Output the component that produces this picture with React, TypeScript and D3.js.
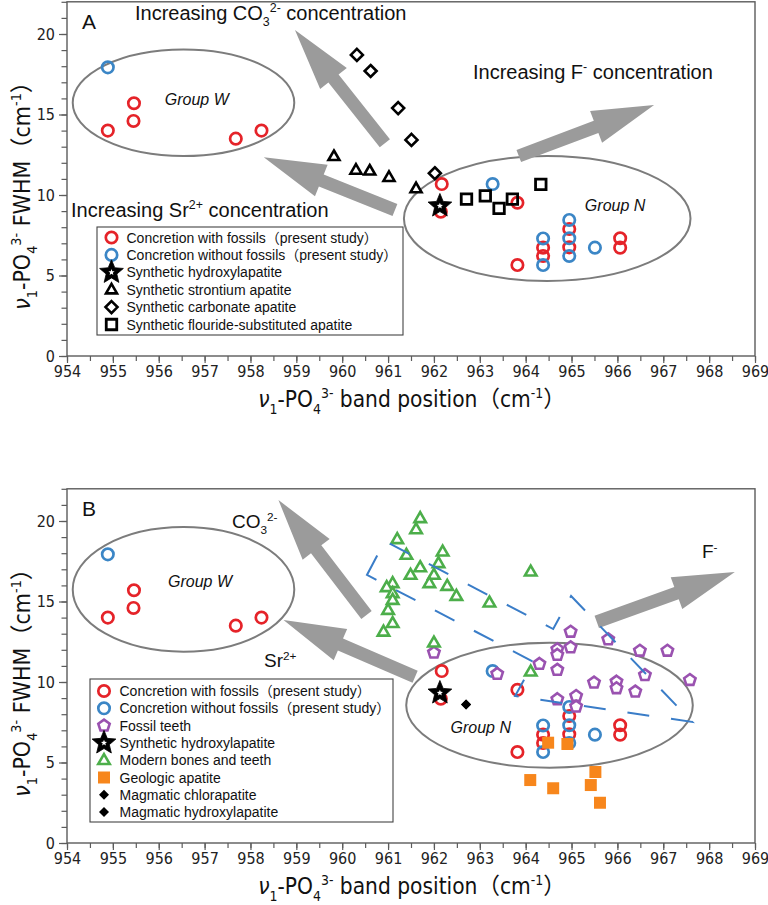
import React, { useEffect, useRef } from 'react';
import * as d3 from 'd3';

type Pt = [number, number];

// present study (shown in both panels)
const withFossils: Pt[] = [
  [954.89, 14.0], [955.46, 15.7], [955.45, 14.6], [957.68, 13.5], [958.24, 14.0],
  [962.17, 10.68], [962.15, 8.96], [963.82, 9.52], [963.82, 5.65],
  [964.38, 6.73], [964.38, 6.21], [964.95, 7.89], [964.95, 6.75],
  [966.06, 7.31], [966.06, 6.73],
];
const withoutFossils: Pt[] = [
  [954.89, 17.93], [963.28, 10.68], [964.38, 7.3], [964.38, 5.65],
  [964.95, 8.45], [964.95, 7.31], [964.95, 6.21], [965.51, 6.73],
];
const hydroxylapatite: Pt[] = [[962.13, 9.32]];

// panel A references
const strontiumApatite: Pt[] = [
  [959.82, 12.4], [960.3, 11.55], [960.6, 11.5], [961.02, 11.1], [961.61, 10.4],
];
const carbonateApatite: Pt[] = [
  [960.32, 18.7], [960.62, 17.7], [961.22, 15.4], [961.51, 13.42], [962.02, 11.35],
];
const fluorideApatite: Pt[] = [
  [962.71, 9.75], [963.12, 9.94], [963.42, 9.17], [963.71, 9.75], [964.33, 10.66],
];

// panel B references
const fossilTeeth: Pt[] = [
  [962.0, 11.82], [964.98, 13.12], [964.98, 12.15], [964.69, 12.03], [964.69, 11.68],
  [965.8, 12.65], [966.49, 11.94], [967.09, 11.94], [964.3, 11.12], [964.69, 10.75],
  [963.38, 10.5], [966.6, 10.43], [967.58, 10.12], [965.49, 9.96], [965.98, 10.02],
  [965.98, 9.61], [966.39, 9.4], [964.69, 8.93], [965.1, 9.13], [965.1, 8.47],
];
const modernBones: Pt[] = [
  [961.7, 20.17], [961.61, 19.48], [961.2, 18.86], [961.4, 17.89], [962.19, 18.09],
  [961.7, 17.12], [962.1, 17.37], [961.49, 16.65], [962.0, 16.65], [961.9, 16.13],
  [962.29, 15.96], [962.49, 15.34], [961.1, 16.13], [960.97, 15.88], [961.1, 15.51],
  [961.1, 15.09], [961.0, 14.47], [961.1, 13.65], [960.9, 13.12], [963.21, 14.93],
  [962.0, 12.44], [964.11, 16.85], [964.11, 10.64],
];
const geologicApatite: Pt[] = [
  [964.49, 6.23], [964.91, 6.15], [964.1, 3.91], [964.6, 3.4],
  [965.52, 4.41], [965.42, 3.6], [965.62, 2.5],
];
const magmaticChlorapatite: Pt[] = [[962.7, 8.6]];
const magmaticHydroxylapatite: Pt[] = [[962.7, 8.6]];

// dashed envelope around bones / teeth (panel B)
const envelope: Pt[] = [
  [960.54, 16.65], [960.93, 18.76], [964.6, 13.29], [964.99, 15.34],
  [967.63, 7.52], [963.77, 9.13], [964.18, 11.24],
];

// arrows: [tail, tip]
const arrowsA: [Pt, Pt][] = [
  [[960.93, 13.21], [958.97, 20.25]],
  [[961.15, 9.07], [958.29, 12.34]],
  [[963.85, 12.42], [966.8, 15.59]],
];
const arrowsB: [Pt, Pt][] = [
  [[960.53, 14.16], [958.61, 21.3]],
  [[961.59, 10.33], [958.72, 13.85]],
  [[965.55, 13.73], [968.56, 16.83]],
];

const xTicks = d3.range(954, 970, 1);
const xMinor = d3.range(954, 969.01, 0.5);
const yTicks = [0, 5, 10, 15, 20];
const yMinor = d3.range(0, 23, 1);

const RED = '#e52329';
const BLUE = '#3b86c6';
const GREEN = '#4cae4a';
const PURPLE = '#9a52b0';
const ORANGE = '#f7861c';
const GREY = '#9b9b9b';

const SANS = '"Liberation Sans", Arial, "Noto Sans CJK JP", sans-serif';
const NARROW = '"Liberation Sans Narrow", "DejaVu Sans Condensed", "Noto Sans CJK JP", sans-serif';

const triPath = (s: number) => {
  const h = (s * Math.sqrt(3)) / 2;
  return `M0,${-2 * h / 3}L${s / 2},${h / 3}L${-s / 2},${h / 3}Z`;
};
const diaPath = (r: number) => `M0,${-r}L${r},0L0,${r}L${-r},0Z`;
const sqPath = (s: number) => `M${-s / 2},${-s / 2}h${s}v${s}h${-s}Z`;
const polyStar = (R: number, r: number) => {
  const p: string[] = [];
  for (let i = 0; i < 10; i++) {
    const a = -Math.PI / 2 + (i * Math.PI) / 5;
    const rr = i % 2 === 0 ? R : r;
    p.push(`${(Math.cos(a) * rr).toFixed(2)},${(Math.sin(a) * rr).toFixed(2)}`);
  }
  return 'M' + p.join('L') + 'Z';
};
const pentPath = (R: number) => {
  const p: string[] = [];
  for (let i = 0; i < 5; i++) {
    const a = -Math.PI / 2 + (i * 2 * Math.PI) / 5;
    p.push(`${(Math.cos(a) * R).toFixed(2)},${(Math.sin(a) * R).toFixed(2)}`);
  }
  return 'M' + p.join('L') + 'Z';
};

type Kind =
  | 'red' | 'blue' | 'star' | 'tri' | 'dia' | 'sq'
  | 'pent' | 'gtri' | 'osq' | 'bdia';

// draws one marker kind at px coordinates
function marker(g: any, kind: Kind, px: number, py: number) {
  const t = `translate(${px},${py})`;
  if (kind === 'red' || kind === 'blue') {
    g.append('circle').attr('cx', px).attr('cy', py).attr('r', 5.7)
      .attr('fill', 'none').attr('stroke', kind === 'red' ? RED : BLUE).attr('stroke-width', 2.7);
  } else if (kind === 'star') {
    g.append('path').attr('transform', t).attr('d', polyStar(12.5, 5.6)).attr('fill', '#000')
      .attr('stroke', '#000').attr('stroke-width', 0.8).attr('stroke-linejoin', 'round');
    g.append('path').attr('transform', t).attr('d', polyStar(3.2, 1.4)).attr('fill', '#fff');
  } else if (kind === 'tri') {
    g.append('path').attr('transform', `translate(${px},${py + 0.5})`).attr('d', triPath(11))
      .attr('fill', '#fff').attr('stroke', '#000').attr('stroke-width', 2.6).attr('stroke-linejoin', 'miter');
  } else if (kind === 'dia') {
    g.append('path').attr('transform', t).attr('d', diaPath(6))
      .attr('fill', '#fff').attr('stroke', '#000').attr('stroke-width', 2.6);
  } else if (kind === 'sq') {
    g.append('path').attr('transform', t).attr('d', sqPath(10.5))
      .attr('fill', 'none').attr('stroke', '#000').attr('stroke-width', 2.8);
  } else if (kind === 'pent') {
    g.append('path').attr('transform', t).attr('d', pentPath(6))
      .attr('fill', '#fff').attr('stroke', PURPLE).attr('stroke-width', 2.6);
  } else if (kind === 'gtri') {
    g.append('path').attr('transform', `translate(${px},${py + 0.5})`).attr('d', triPath(11.5))
      .attr('fill', '#fff').attr('stroke', GREEN).attr('stroke-width', 2.6);
  } else if (kind === 'osq') {
    g.append('path').attr('transform', t).attr('d', sqPath(12)).attr('fill', ORANGE);
  } else if (kind === 'bdia') {
    g.append('path').attr('transform', t).attr('d', diaPath(5)).attr('fill', '#000');
  }
}

type Part = [string, 'n' | 'sub' | 'sup' | 'i'];

// text with sub / superscripts as tspans
function rich(g: any, x: number, y: number, parts: Part[], size: number, family: string, anchor = 'start', transform?: string) {
  const t = g.append('text').attr('x', x).attr('y', y)
    .attr('font-family', family).attr('font-size', size).attr('fill', '#111')
    .attr('text-anchor', anchor);
  if (transform) t.attr('transform', transform);
  let shift = 0;
  parts.forEach(([s, k]) => {
    const want = k === 'sub' ? 0.3 * size : k === 'sup' ? -0.38 * size : 0;
    const sp = t.append('tspan').attr('dy', want - shift).text(s);
    if (k === 'sub' || k === 'sup') sp.attr('font-size', size * 0.62);
    if (k === 'i') sp.attr('font-style', 'italic');
    shift = want;
  });
  return t;
}

const App: React.FC = () => {
  const svgRef = useRef<SVGSVGElement>(null);

  useEffect(() => {
    const svg = d3.select(svgRef.current);
    svg.selectAll('*').remove();

    svg.append('rect').attr('width', 768).attr('height', 905).attr('fill', '#fff');

    const x = d3.scaleLinear().domain([954, 969]).range([67, 755]);

    const panels = [
      {
        key: 'A', bottom: 356, arrows: arrowsA,
        ellW: { cx: 956.54, cy: 15.73, rx: 2.415, ry: 3.31 },
        ellN: { cx: 964.47, cy: 8.54, rx: 3.124, ry: 3.88 },
        groupW: [956.83, 15.6], groupN: [965.95, 9.0],
      },
      {
        key: 'B', bottom: 843, arrows: arrowsB,
        ellW: { cx: 956.54, cy: 15.75, rx: 2.415, ry: 3.87 },
        ellN: { cx: 964.52, cy: 8.56, rx: 3.124, ry: 3.88 },
        groupW: [956.9, 15.9], groupN: [963.02, 6.83],
      },
    ];

    panels.forEach((p) => {
      const y = d3.scaleLinear().domain([0, 22]).range([p.bottom, p.bottom - 354.2]);
      const g = svg.append('g');

      // frame
      g.append('rect').attr('x', 67).attr('y', y(22)).attr('width', 688).attr('height', y(0) - y(22))
        .attr('fill', 'none').attr('stroke', '#5c5c5c').attr('stroke-width', 1.4);

      // x axis
      g.append('g').attr('transform', `translate(0,${y(0)})`)
        .call(d3.axisBottom(x).tickValues(xMinor).tickSize(5).tickFormat(() => ''))
        .call((a: any) => a.select('.domain').remove())
        .selectAll('line').attr('stroke', '#5c5c5c').attr('stroke-width', 1.2);
      const xa = g.append('g').attr('transform', `translate(0,${y(0)})`)
        .call(d3.axisBottom(x).tickValues(xTicks).tickSize(7).tickPadding(3).tickFormat(d3.format('d')));
      xa.select('.domain').remove();
      xa.selectAll('line').attr('stroke', '#5c5c5c').attr('stroke-width', 1.2);
      xa.selectAll('text').attr('font-family', NARROW).attr('font-size', 16).attr('fill', '#222');

      // y axis
      g.append('g').attr('transform', 'translate(67,0)')
        .call(d3.axisLeft(y).tickValues(yMinor).tickSize(5.5).tickFormat(() => ''))
        .call((a: any) => a.select('.domain').remove())
        .selectAll('line').attr('stroke', '#5c5c5c').attr('stroke-width', 1.2);
      const ya = g.append('g').attr('transform', 'translate(67,0)')
        .call(d3.axisLeft(y).tickValues(yTicks).tickSize(8).tickPadding(4).tickFormat(d3.format('d')));
      ya.select('.domain').remove();
      ya.selectAll('line').attr('stroke', '#5c5c5c').attr('stroke-width', 1.2);
      ya.selectAll('text').attr('font-family', NARROW).attr('font-size', 16).attr('fill', '#222');

      // axis titles
      rich(g, 412, y(0) + 51, [
        ['ν', 'i'], ['1', 'sub'], ['-PO', 'n'], ['4', 'sub'], ['3-', 'sup'],
        [' band position', 'n'], ['（cm', 'n'], ['-1', 'sup'], ['）', 'n'],
      ], 22.5, NARROW, 'middle');
      const yc = p.key === 'A' ? 190 : 677;
      rich(g, 0, 0, [
        ['ν', 'i'], ['1', 'sub'], ['-PO', 'n'], ['4', 'sub'], ['3-', 'sup'],
        [' FWHM', 'n'], ['（cm', 'n'], ['-1', 'sup'], ['）', 'n'],
      ], 23, NARROW, 'middle', `translate(30,${yc}) rotate(-90)`);

      // panel letter
      g.append('text').attr('x', 82).attr('y', y(22) + 27).attr('font-family', SANS)
        .attr('font-size', 21).attr('fill', '#111').text(p.key);

      // ellipses
      [p.ellW, p.ellN].forEach((e) => {
        g.append('ellipse').attr('cx', x(e.cx)).attr('cy', y(e.cy))
          .attr('rx', x(954 + e.rx) - x(954)).attr('ry', y(0) - y(e.ry))
          .attr('fill', 'none').attr('stroke', '#7c7c7c').attr('stroke-width', 2);
      });
      g.append('text').attr('x', x(p.groupW[0])).attr('y', y(p.groupW[1])).attr('text-anchor', 'middle')
        .attr('font-family', SANS).attr('font-style', 'italic').attr('font-size', 16).attr('fill', '#111').text('Group W');
      g.append('text').attr('x', x(p.groupN[0])).attr('y', y(p.groupN[1])).attr('text-anchor', 'middle')
        .attr('font-family', SANS).attr('font-style', 'italic').attr('font-size', 16).attr('fill', '#111').text('Group N');

      // arrows
      p.arrows.forEach(([tail, tip]) => {
        const x1 = x(tail[0]), y1 = y(tail[1]), x2 = x(tip[0]), y2 = y(tip[1]);
        const L = Math.hypot(x2 - x1, y2 - y1);
        const ux = (x2 - x1) / L, uy = (y2 - y1) / L;
        const nx = -uy, ny = ux;
        const sw = 6.5, hw = 17, hl = 62;
        const bx = x2 - ux * hl, by = y2 - uy * hl;
        const pts = [
          [x1 + nx * sw, y1 + ny * sw], [bx + nx * sw, by + ny * sw], [bx + nx * hw, by + ny * hw],
          [x2, y2], [bx - nx * hw, by - ny * hw], [bx - nx * sw, by - ny * sw], [x1 - nx * sw, y1 - ny * sw],
        ];
        g.append('path').attr('d', 'M' + pts.map((q) => q.join(',')).join('L') + 'Z').attr('fill', GREY);
      });

      const plot = (data: Pt[], kind: Kind) => data.forEach((d) => marker(g, kind, x(d[0]), y(d[1])));

      if (p.key === 'A') {
        rich(g, 135, 20, [['Increasing CO', 'n'], ['3', 'sub'], ['2-', 'sup'], [' concentration', 'n']], 20, SANS);
        rich(g, 473, 79, [['Increasing F', 'n'], ['-', 'sup'], [' concentration', 'n']], 20, SANS);
        rich(g, 71, 217, [['Increasing Sr', 'n'], ['2+', 'sup'], [' concentration', 'n']], 20, SANS);

        plot(withFossils, 'red');
        plot(withoutFossils, 'blue');
        plot(strontiumApatite, 'tri');
        plot(carbonateApatite, 'dia');
        plot(fluorideApatite, 'sq');
        plot(hydroxylapatite, 'star');
      } else {
        rich(g, 232, 528, [['CO', 'n'], ['3', 'sub'], ['2-', 'sup']], 19, SANS);
        rich(g, 264, 667, [['Sr', 'n'], ['2+', 'sup']], 19, SANS);
        rich(g, 702, 558, [['F', 'n'], ['-', 'sup']], 19, SANS);

        plot(withFossils, 'red');
        plot(withoutFossils, 'blue');
        plot(fossilTeeth, 'pent');
        plot(hydroxylapatite, 'star');
        plot(modernBones, 'gtri');

        const line = d3.line<Pt>().x((d) => x(d[0])).y((d) => y(d[1])).curve(d3.curveLinearClosed);
        g.append('path').attr('d', line(envelope)).attr('fill', 'none').attr('stroke', '#3a7dc8')
          .attr('stroke-width', 2).attr('stroke-dasharray', '22,22');

        plot(geologicApatite, 'osq');
        plot(magmaticChlorapatite, 'bdia');
        plot(magmaticHydroxylapatite, 'bdia');
      }

      // legend
      const items: [Kind, string][] = p.key === 'A'
        ? [
          ['red', 'Concretion with fossils（present study）'],
          ['blue', 'Concretion without fossils（present study）'],
          ['star', 'Synthetic hydroxylapatite'],
          ['tri', 'Synthetic strontium apatite'],
          ['dia', 'Synthetic carbonate apatite'],
          ['sq', 'Synthetic flouride-substituted apatite'],
        ]
        : [
          ['red', 'Concretion with fossils（present study）'],
          ['blue', 'Concretion without fossils（present study）'],
          ['pent', 'Fossil teeth'],
          ['star', 'Synthetic hydroxylapatite'],
          ['gtri', 'Modern bones and teeth'],
          ['osq', 'Geologic apatite'],
          ['bdia', 'Magmatic chlorapatite'],
          ['bdia', 'Magmatic hydroxylapatite'],
        ];
      const box = p.key === 'A'
        ? { x: 97, y: 227, w: 306, h: 108, row0: 237.5, step: 17.4, sx: 111.5, tx: 126.5 }
        : { x: 90, y: 679, w: 303, h: 143, row0: 691, step: 17.3, sx: 104, tx: 119.5 };
      g.append('rect').attr('x', box.x).attr('y', box.y).attr('width', box.w).attr('height', box.h)
        .attr('fill', '#fff').attr('stroke', '#444').attr('stroke-width', 1.1);
      items.forEach(([k, label], i) => {
        const cy = box.row0 + i * box.step;
        marker(g, k, box.sx, cy);
        g.append('text').attr('x', box.tx).attr('y', cy + 5).attr('font-family', SANS)
          .attr('font-size', 14).attr('fill', '#111').text(label);
      });
    });
  }, []);

  return (
    <svg
      ref={svgRef}
      width={768}
      height={905}
      style={{ position: 'absolute', left: 0, top: 0, display: 'block' }}
    />
  );
};

export default App;
